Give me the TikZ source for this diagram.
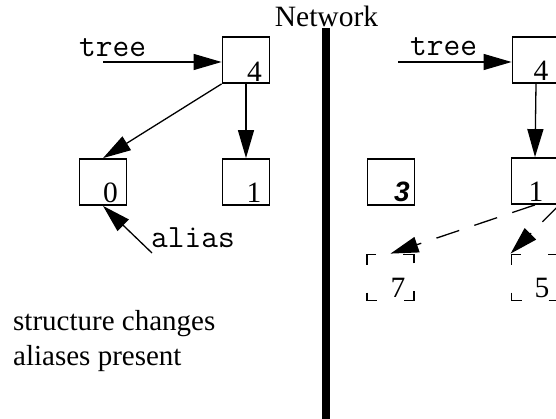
\documentclass[tikz,border=0pt]{standalone}
\usepackage{fontspec}
\setmainfont{Liberation Serif}
\newfontfamily\sansf{Liberation Sans}
\usetikzlibrary{arrows.meta,calc}
\begin{document}
\begin{tikzpicture}[x=1pt,y=-1pt,
  box/.style={draw,line width=1.8pt,minimum width=47pt,minimum height=46pt,inner sep=0pt},
  dbox/.style={box,dash pattern=on 20pt off 27pt,dash phase=10pt},
  num/.style={anchor=base,font=\fontsize{29.5}{34}\selectfont,inner sep=0pt},
  mono/.style={anchor=base west,font=\ttfamily\fontsize{32.5}{36}\selectfont,inner sep=0pt},
  txt/.style={anchor=base west,font=\fontsize{29}{35}\selectfont,inner sep=0pt},
  arr/.style={line width=1.3pt,-{Triangle[length=28pt,width=16pt]}},
  darr/.style={arr,dash pattern=on 24pt off 16pt}]
\useasboundingbox (0,0) rectangle (556,419);

% left half
\node[box] (L4) at (246,60) {};
\node[box] (L0) at (103,182) {};
\node[box] (L1) at (246,182) {};
\node[num] (n L4) at (254.5,82) {4};
\node[num] (n L0) at (110.5,203) {0};
\node[num] (n L1) at (254,203) {1};
\node[mono] (treeL) at (79,57) {tree};
\coordinate (tL) at (103,62);
\draw[arr] (tL) -- (tL -| L4.west);
\draw[arr] (L4.south west) -- (L0.north);
\draw[arr] (L4.south) -- (L1.north);
\node[mono] (alias) at (151,248) {alias};
\coordinate (aT) at (152,253);
\draw[arr] (aT) -- (L0.south);
\node[txt] (s1) at (13,330) {structure changes};
\node[txt] (s2) at (13,365) {aliases present};

% divider
\node[num] (net) at (326.5,27) {Network};
\coordinate (barT) at (326,28);
\coordinate (barB) at (326,419);
\draw[line width=8pt] (barT) -- (barB);

% right half
\node[box] (R4) at (536,60) {};
\node[box] (R3) at (391,182) {};
\node[box] (R1) at (535,181) {};
\node[dbox] (R7) at (390.5,277.5) {};
\node[dbox] (R5) at (535,277.5) {};
\node[num] (n R4) at (541,81) {4};
\node[num,font=\sansf\bfseries\itshape\fontsize{28}{34}\selectfont] (n R3) at (402,202) {3};
\node[num] (n R1) at (536,202) {1};
\node[num] (n R7) at (398,297) {7};
\node[num] (n R5) at (542,297) {5};
\node[mono] (treeR) at (410,56) {tree};
\coordinate (tR) at (398,62);
\draw[arr] (tR) -- (tR -| R4.west);
\draw[arr] (R4.south) -- (R1.north);
\draw[darr] (R1.south) -- (R7.north);
\draw[darr] (R1.south east) -- (R5.north west);
\end{tikzpicture}
\end{document}
